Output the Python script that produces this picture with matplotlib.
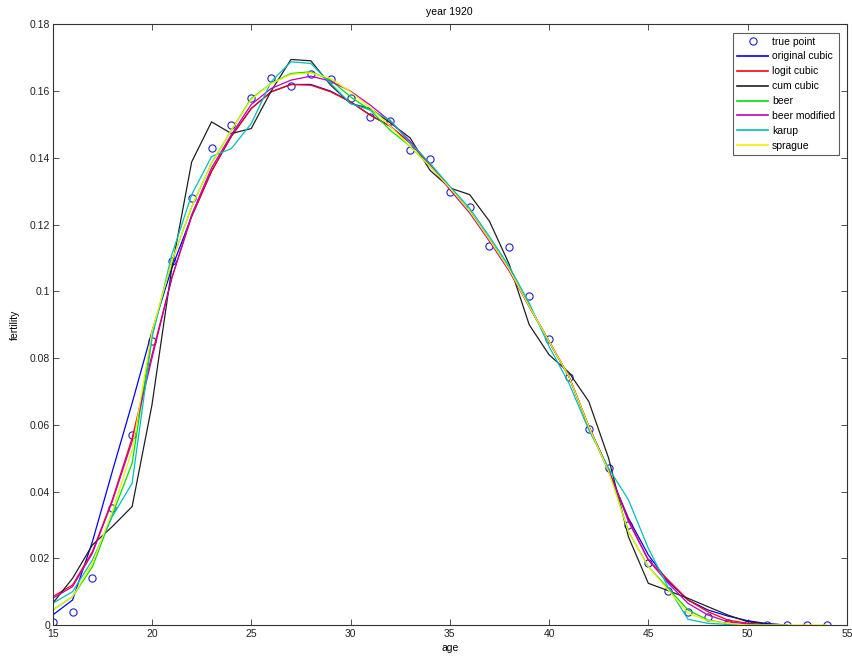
import numpy as np
import matplotlib
matplotlib.use('Agg')
import matplotlib.pyplot as plt
from matplotlib.ticker import FuncFormatter

plt.rcParams['font.family'] = ['Liberation Sans', 'DejaVu Sans']
plt.rcParams['font.size'] = 7.5

# observed age-specific fertility, year 1920
ages = np.arange(15, 55)
true_point = [0.001, 0.004, 0.014, 0.035, 0.057, 0.085, 0.109, 0.128, 0.143, 0.150,
              0.158, 0.164, 0.1615, 0.165, 0.1635, 0.158, 0.1523, 0.151, 0.1423, 0.1398,
              0.1297, 0.1254, 0.1137, 0.1132, 0.0987, 0.0856, 0.0742, 0.0587, 0.047, 0.030,
              0.0185, 0.0103, 0.004, 0.0023, 0.0007, 0.0003, 0.0, 0.0, 0.0, 0.0]

# fitted curves, one value per year of age
ages_fit = np.arange(15, 53)
original_cubic = [0.003, 0.0075, 0.025, 0.046, 0.0665, 0.088, 0.107, 0.1225, 0.136, 0.1465,
                  0.1548, 0.1598, 0.162, 0.162, 0.160, 0.1568, 0.1528, 0.1495, 0.1445, 0.138,
                  0.131, 0.124, 0.1155, 0.1065, 0.0955, 0.085, 0.0745, 0.0595, 0.046, 0.032,
                  0.021, 0.013, 0.0075, 0.0045, 0.0027, 0.0013, 0.0004, 0.0]
logit_cubic = [0.0085, 0.012, 0.022, 0.0375, 0.056, 0.081, 0.104, 0.1225, 0.136, 0.1465,
               0.1548, 0.1598, 0.162, 0.1618, 0.1598, 0.1568, 0.1528, 0.1495, 0.1445, 0.138,
               0.131, 0.124, 0.1155, 0.1065, 0.0955, 0.085, 0.0745, 0.0595, 0.0465, 0.0315,
               0.0195, 0.0135, 0.0075, 0.004, 0.0015, 0.0005, 0.0001, 0.0]
cum_cubic = [0.0065, 0.014, 0.024, 0.0295, 0.0355, 0.066, 0.107, 0.1388, 0.1508, 0.1473,
             0.1488, 0.160, 0.1695, 0.1691, 0.1618, 0.1563, 0.1548, 0.1505, 0.146, 0.1363,
             0.131, 0.129, 0.121, 0.108, 0.090, 0.081, 0.0757, 0.067, 0.050, 0.0264,
             0.0125, 0.0103, 0.008, 0.0055, 0.003, 0.001, 0.0003, 0.0]
beer = [0.0045, 0.0085, 0.0175, 0.033, 0.0485, 0.087, 0.109, 0.1253, 0.1384, 0.1483,
        0.1578, 0.1623, 0.1653, 0.1658, 0.1633, 0.1583, 0.1543, 0.1483, 0.1435, 0.1375,
        0.131, 0.124, 0.1155, 0.1065, 0.0955, 0.085, 0.0745, 0.0595, 0.0465, 0.028,
        0.0175, 0.011, 0.0045, 0.0015, 0.0005, 0.0, 0.0, 0.0]
beer_modified = [0.008, 0.0115, 0.0215, 0.037, 0.055, 0.080, 0.104, 0.123, 0.137, 0.147,
                 0.156, 0.1608, 0.1633, 0.1645, 0.163, 0.160, 0.1558, 0.151, 0.145, 0.138,
                 0.1305, 0.1235, 0.115, 0.106, 0.0955, 0.085, 0.0745, 0.0595, 0.0465, 0.031,
                 0.0195, 0.0125, 0.0065, 0.003, 0.001, 0.0003, 0.0, 0.0]
karup = [0.0065, 0.010, 0.0195, 0.0325, 0.0425, 0.086, 0.111, 0.129, 0.1404, 0.1428,
         0.1503, 0.1628, 0.1688, 0.1683, 0.1623, 0.1563, 0.1543, 0.1513, 0.1445, 0.1384,
         0.1315, 0.1249, 0.1164, 0.1074, 0.0965, 0.0835, 0.0725, 0.0585, 0.047, 0.0375,
         0.023, 0.0113, 0.0017, 0.0005, 0.0002, 0.0, 0.0, 0.0]
ages_sprague = np.arange(15, 55)
sprague = [0.0045, 0.0085, 0.0185, 0.034, 0.0524, 0.088, 0.109, 0.1253, 0.1384, 0.1483,
           0.1575, 0.1623, 0.165, 0.1655, 0.1638, 0.1598, 0.155, 0.1495, 0.1435, 0.1375,
           0.131, 0.124, 0.1155, 0.1065, 0.0955, 0.085, 0.0745, 0.0595, 0.046, 0.028,
           0.0175, 0.0105, 0.0035, 0.0013, 0.0005, 0.0, 0.0, 0.0, 0.0, 0.0]

x_ticks = [15, 20, 25, 30, 35, 40, 45, 50, 55]
y_ticks = [0, 0.02, 0.04, 0.06, 0.08, 0.1, 0.12, 0.14, 0.16, 0.18]

fig = plt.figure(figsize=(8.53, 6.60), dpi=100)
ax = fig.add_axes([0.0618, 0.053, 0.931, 0.910])

lw = 0.9
ax.plot(ages, true_point, 'o', color='#2020d0', mfc='none', ms=5.2, mew=0.8, label='true point')
ax.plot(ages_fit, original_cubic, color='b', lw=lw, label='original cubic')
ax.plot(ages_fit, logit_cubic, color='r', lw=lw, label='logit cubic')
ax.plot(ages_fit, cum_cubic, color='#202020', lw=lw, label='cum cubic')
ax.plot(ages_fit, beer, color='#00e000', lw=lw, label='beer')
ax.plot(ages_fit, beer_modified, color='m', lw=lw, label='beer modified')
ax.plot(ages_fit, karup, color='c', lw=lw, label='karup')
ax.plot(ages_sprague, sprague, color='#f0f000', lw=lw, label='sprague')

ax.set_xlim(15, 55)
ax.set_ylim(0, 0.18)
ax.set_xticks(x_ticks)
ax.set_yticks(y_ticks)
ax.yaxis.set_major_formatter(FuncFormatter(lambda v, p: '{:g}'.format(v)))
ax.tick_params(direction='in', top=True, right=True, length=4, width=0.6, pad=3,
               colors='#333333', labelcolor='#222222')
ax.tick_params(axis='y', pad=2)
for s in ax.spines.values():
    s.set_linewidth(0.8)
    s.set_color('#333333')

ax.set_title('year 1920', fontsize=7.5, pad=7)
ax.set_xlabel('age', labelpad=3)
ax.set_ylabel('fertility', labelpad=7)

leg = ax.legend(loc='upper right', bbox_to_anchor=(0.9935, 0.991), fancybox=False,
                edgecolor='#333333', fontsize=7.5, handlelength=3.0, handletextpad=0.35,
                labelspacing=0.47, borderpad=0.35, borderaxespad=0.3)
leg.get_frame().set_linewidth(0.8)
for line in leg.get_lines():
    line.set_linewidth(1.2)

fig.savefig('out.png', dpi=100)
